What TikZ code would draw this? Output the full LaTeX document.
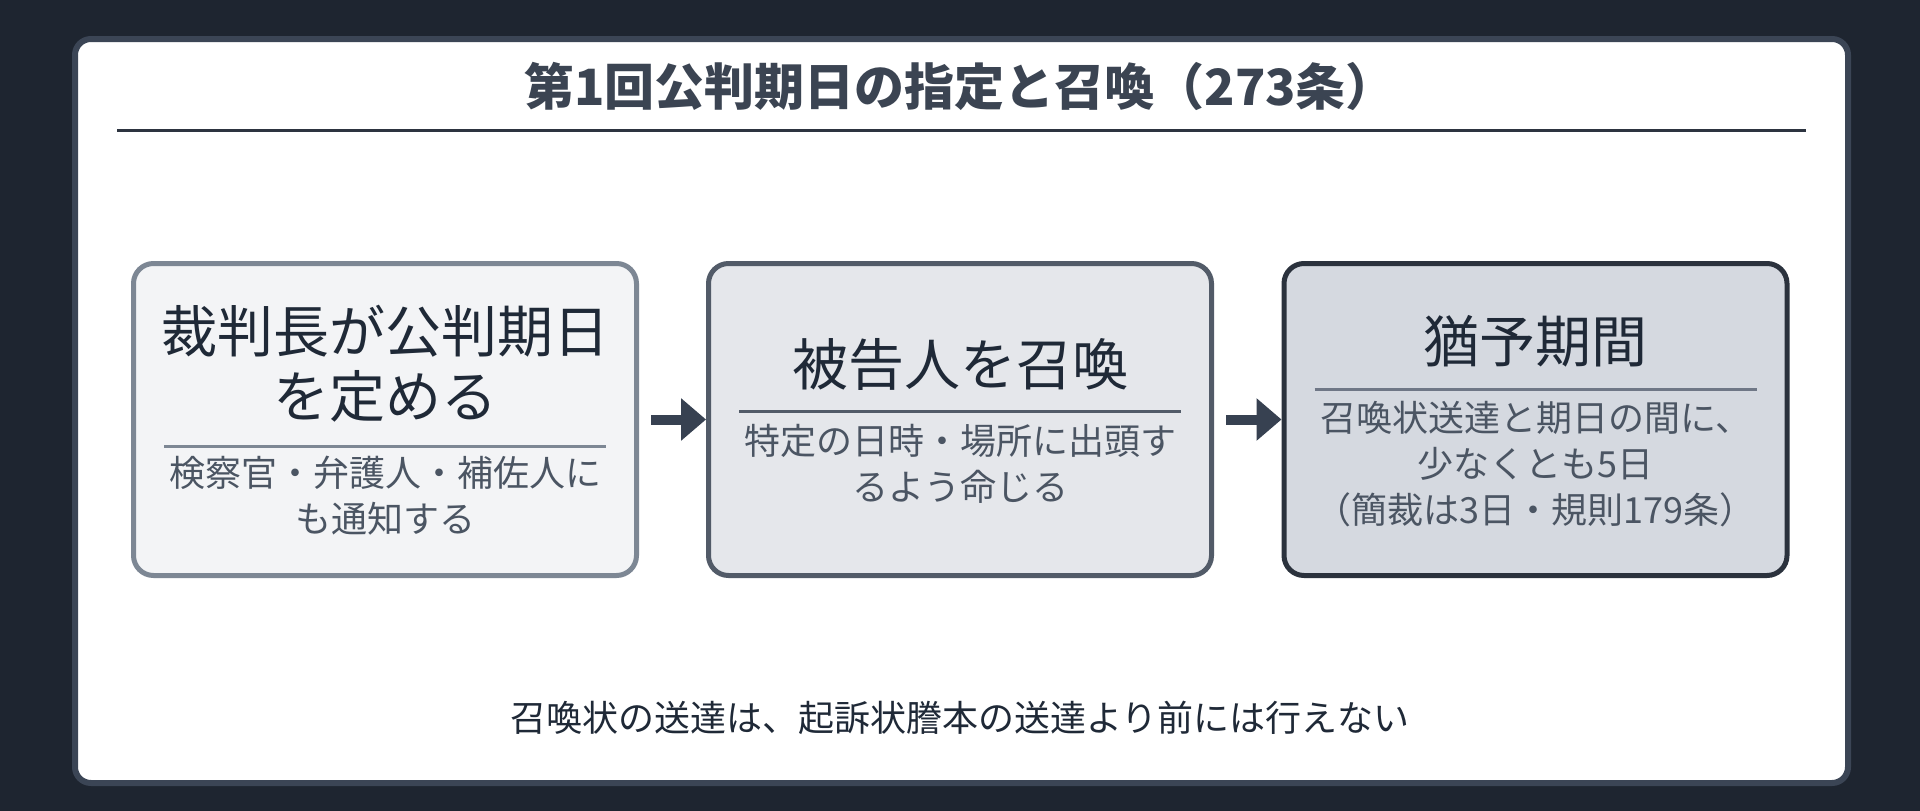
\documentclass[tikz,border=0pt]{standalone}
\usepackage{fontspec}
\setmainfont{Noto Sans CJK JP}
\usetikzlibrary{arrows.meta}
\definecolor{bgc}{HTML}{1E2530}
\definecolor{panelborder}{HTML}{3B4555}
\definecolor{titlec}{HTML}{3B4452}
\definecolor{rulec}{HTML}{2D3440}
\definecolor{headc}{HTML}{1F2937}
\definecolor{subc}{HTML}{4B5563}
\definecolor{fillA}{HTML}{F3F4F6}
\definecolor{drawA}{HTML}{7D8794}
\definecolor{fillB}{HTML}{E5E7EB}
\definecolor{drawB}{HTML}{525B68}
\definecolor{fillC}{HTML}{D5D9E0}
\definecolor{drawC}{HTML}{2B323D}
\definecolor{sepC}{HTML}{6F7786}
\definecolor{arrowc}{HTML}{374151}
\tikzset{
  stagebox/.style={rectangle, rounded corners=20pt, line width=5pt, minimum width=503pt, minimum height=312pt, inner sep=0pt},
  headtext/.style={inner sep=0pt, align=center, text=headc, font=\fontsize{56pt}{65pt}\selectfont},
  subtext/.style={inner sep=0pt, align=center, text=subc, font=\fontsize{36pt}{46pt}\selectfont},
  seprule/.style={line width=3pt},
  flowarrow/.style={draw=arrowc, line width=10pt, -{Triangle[length=25pt,width=41pt]}, arrowc},
}
\begin{document}
\begin{tikzpicture}[x=1pt,y=-1pt]
\useasboundingbox (0,0) rectangle (1920,811);
\fill[bgc] (0,0) rectangle (1920,811);
% panel
\draw[panelborder, line width=6pt, fill=white, rounded corners=16pt] (75,39) rectangle (1848,783);
% title
\node[inner sep=0pt, text=titlec, font=\fontsize{50pt}{58pt}\selectfont\bfseries] (title) at (960,86) {第1回公判期日の指定と召喚（273条）};
\coordinate (ruleL) at (117,130);
\coordinate (ruleR) at (1806,130);
\draw[rulec, line width=3pt] (ruleL) -- (ruleR);
% boxes
\node[stagebox, draw=drawA, fill=fillA] (b1) at (385,419.5) {};
\node[stagebox, draw=drawB, fill=fillB] (b2) at (960,419.5) {};
\node[stagebox, draw=drawC, fill=fillC] (b3) at (1535.5,419.5) {};
% box 1 content
\node[headtext] (h1) at (385,363.5) {裁判長が公判期日\\を定める};
\coordinate (s1L) at (164,446);
\coordinate (s1R) at (606,446);
\draw[seprule, drawA] (s1L) -- (s1R);
\node[subtext] (t1) at (385,496) {検察官・弁護人・補佐人に\\も通知する};
% box 2 content
\node[headtext] (h2) at (960,364) {被告人を召喚};
\coordinate (s2L) at (739,411);
\coordinate (s2R) at (1181,411);
\draw[seprule, drawB] (s2L) -- (s2R);
\node[subtext] (t2) at (960,463.5) {特定の日時・場所に出頭す\\るよう命じる};
% box 3 content
\node[headtext] (h3) at (1535.5,341) {猶予期間};
\coordinate (s3L) at (1314.5,389);
\coordinate (s3R) at (1756.5,389);
\draw[seprule, sepC] (s3L) -- (s3R);
\node[subtext] (t3) at (1535.5,464) {召喚状送達と期日の間に、\\少なくとも5日\\（簡裁は3日・規則179条）};
% arrows
\draw[flowarrow] ([xshift=12pt]b1.east) -- (b2.west);
\draw[flowarrow] ([xshift=12pt]b2.east) -- (b3.west);
% note
\node[inner sep=0pt, text=headc, font=\fontsize{36pt}{46pt}\selectfont] (note) at (960,718) {召喚状の送達は、起訴状謄本の送達より前には行えない};
\end{tikzpicture}
\end{document}
